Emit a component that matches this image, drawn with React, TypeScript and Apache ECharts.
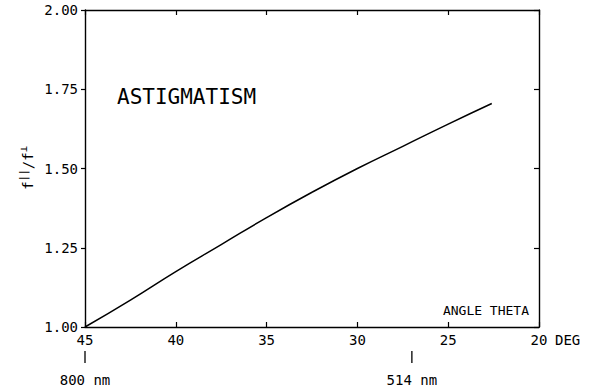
import React, { useEffect, useRef } from "react";
import * as echarts from "echarts";

// Data
const angles = [45, 42.5, 40, 37.5, 35, 32.5, 30, 27.5, 25, 22.6];
const ratios = [1.0, 1.085, 1.175, 1.26, 1.345, 1.425, 1.5, 1.57, 1.64, 1.705];
const xTickValues = [45, 40, 35, 30, 25, 20];
const yTickValues = [1.0, 1.25, 1.5, 1.75, 2.0];
const wavelengthLabels = ["800 nm", "514 nm"];
const wavelengthAngles = [45, 27];

const FONT = "DejaVu Sans Mono";
const BLACK = "#000";

export default function App() {
  const ref = useRef<HTMLDivElement>(null);
  useEffect(() => {
    if (!ref.current) return;
    const chart = echarts.init(ref.current, undefined, { renderer: "svg" });
    const xMin = xTickValues[xTickValues.length - 1];
    const xMax = xTickValues[0];
    const yMin = yTickValues[0];
    const yMax = yTickValues[yTickValues.length - 1];
    const axisCommon = {
      splitLine: { show: false },
      axisLine: { show: true, onZero: false, lineStyle: { color: BLACK, width: 1.4 } },
    };
    chart.setOption({
      animation: false,
      backgroundColor: "#fff",
      grid: { left: 85, right: 73, top: 10, bottom: 62 },
      xAxis: [
        {
          type: "value", position: "bottom", inverse: true, min: xMin, max: xMax, interval: 5,
          ...axisCommon,
          axisTick: { inside: true, length: 5, lineStyle: { color: BLACK, width: 1.2 } },
          axisLabel: { margin: 6, color: BLACK, fontFamily: FONT, fontSize: 14, formatter: (v: number) => String(v) },
        },
        {
          type: "value", position: "top", inverse: true, min: xMin, max: xMax, interval: 5,
          ...axisCommon,
          axisTick: { inside: true, length: 5, lineStyle: { color: BLACK, width: 1.2 } },
          axisLabel: { show: false },
        },
      ],
      yAxis: [
        {
          type: "value", position: "left", min: yMin, max: yMax, interval: 0.25,
          ...axisCommon,
          axisTick: { inside: false, length: 4, lineStyle: { color: BLACK, width: 1.2 } },
          axisLabel: { margin: 7, color: BLACK, fontFamily: FONT, fontSize: 14, formatter: (v: number) => v.toFixed(2) },
        },
        {
          type: "value", position: "right", min: yMin, max: yMax, interval: 0.25,
          ...axisCommon,
          axisTick: { inside: true, length: 5, lineStyle: { color: BLACK, width: 1.2 } },
          axisLabel: { show: false },
        },
      ],
      series: [
        {
          type: "line",
          data: angles.map((a, i) => [a, ratios[i]]),
          smooth: true,
          showSymbol: false,
          lineStyle: { color: BLACK, width: 1.5 },
        },
      ],
    });

    const px = (v: number) => chart.convertToPixel({ xAxisIndex: 0 }, v) as number;
    const graphics: any[] = [
      {
        type: "text", x: 117, y: 97,
        style: { text: "ASTIGMATISM", fontFamily: FONT, fontSize: 21, fill: BLACK, verticalAlign: "middle", align: "left" },
      },
      {
        type: "text", x: 529, y: 310,
        style: { text: "ANGLE THETA", fontFamily: FONT, fontSize: 13, fill: BLACK, verticalAlign: "middle", align: "right" },
      },
      {
        type: "text", x: px(xMin) + 16, y: 340,
        style: { text: "DEG", fontFamily: FONT, fontSize: 14, fill: BLACK, verticalAlign: "middle", align: "left" },
      },
      {
        type: "text", x: 28, y: 168, rotation: Math.PI / 2,
        style: {
          text: "{f|f}{s|||}{f|/f}{s|⊥}",
          align: "center", verticalAlign: "middle", fill: BLACK,
          rich: {
            f: { fontFamily: FONT, fontSize: 14, lineHeight: 20, fill: BLACK },
            s: { fontFamily: FONT, fontSize: 10, lineHeight: 20, verticalAlign: "top", fill: BLACK },
          },
        },
      },
    ];
    wavelengthLabels.forEach((lab, i) => {
      const x = px(wavelengthAngles[i]);
      graphics.push({ type: "line", shape: { x1: x, y1: 351, x2: x, y2: 363 }, style: { stroke: BLACK, lineWidth: 1.3 } });
      graphics.push({
        type: "text", x: x, y: 380,
        style: { text: lab, fontFamily: FONT, fontSize: 14, fill: BLACK, align: "center", verticalAlign: "middle" },
      });
    });
    chart.setOption({ graphic: graphics });
    return () => chart.dispose();
  }, []);
  return <div ref={ref} style={{ position: "absolute", left: 0, top: 0, width: 612, height: 389 }} />;
}
